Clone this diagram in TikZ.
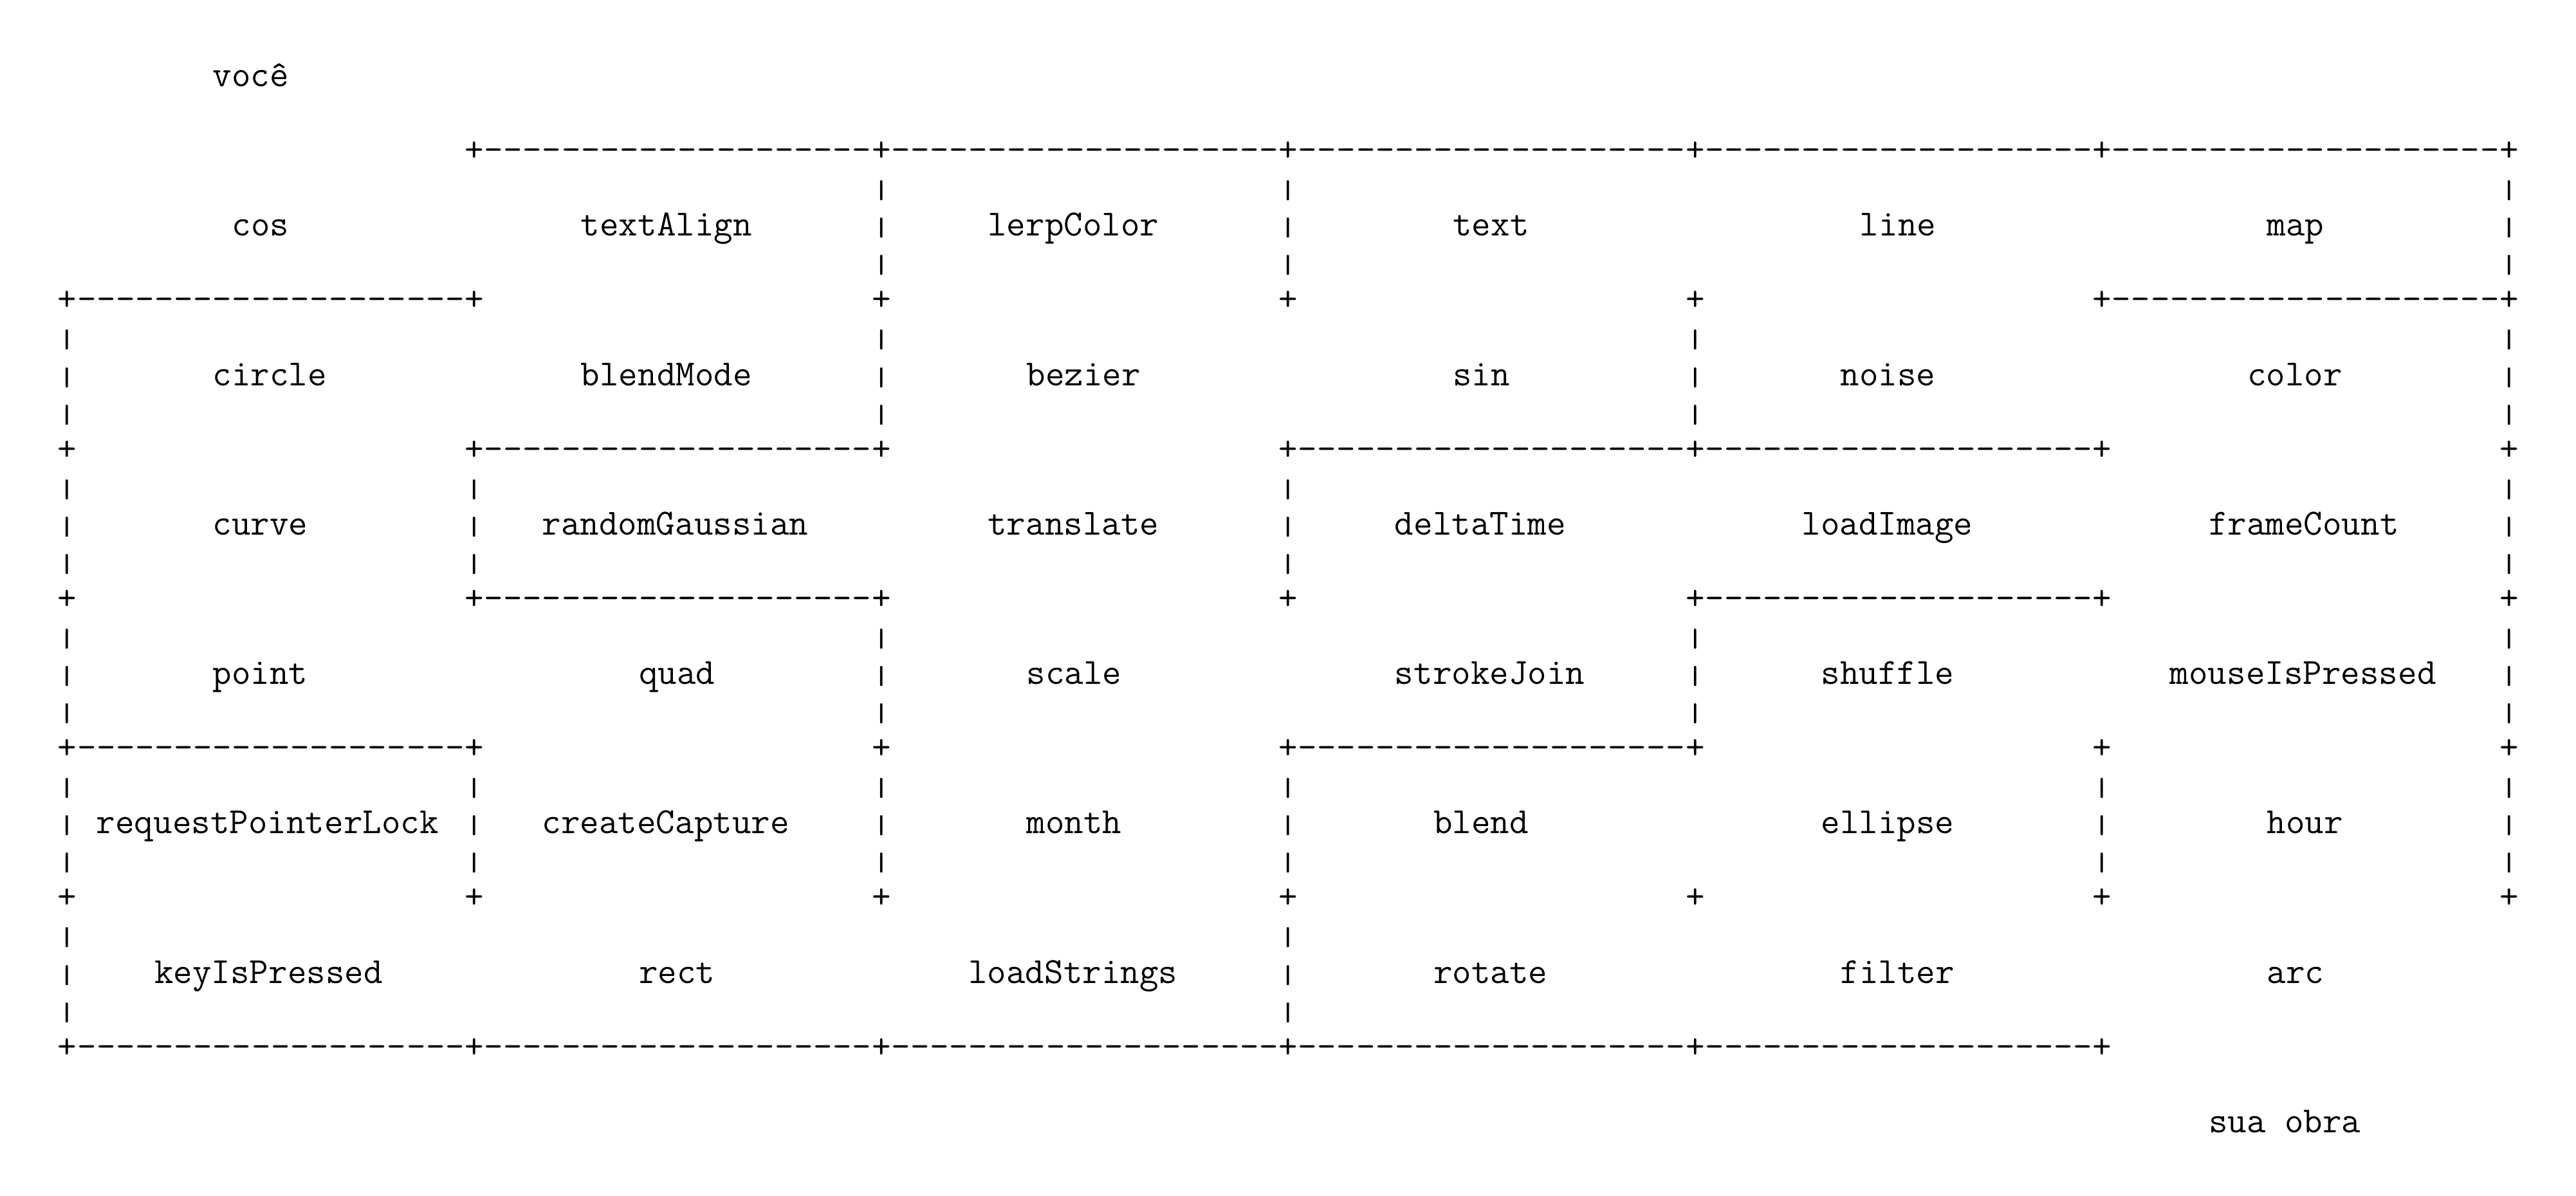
\documentclass[tikz,border=0pt]{standalone}
\usepackage{graphicx}
\usepackage{tikz}

\newcommand{\knot}{\makebox[5.4pt]{+}}
\newcommand{\wdash}{\makebox[5.4pt]{-}}
\newcommand{\vbar}{\makebox[5.4pt]{\scalebox{1}[0.7]{|}}}

\begin{document}
\begin{tikzpicture}[x=6pt,y=11.566pt,
	every node/.style={inner sep=0pt,outer sep=0pt,font=\ttfamily\fontsize{11.43}{11.57}\selectfont},
	word/.style={anchor=mid west},
	glyph/.style={anchor=mid}]
	\useasboundingbox (-2.975,2.13) rectangle (129.955,-29.87);

	\draw (8,0) node[word] (you) {você};
	\draw (111,-28) node[word] (work) {sua obra};

	\foreach \c in {21,42,...,126}
		\draw (\c+0.5,-2) node[glyph] (knot-\c-2) {\knot};
	\foreach \r in {6,10,14,18,22}
		\foreach \c in {0,21,...,126}
			\draw (\c+0.5,-\r) node[glyph] (knot-\c-\r) {\knot};
	\foreach \c in {0,21,...,105}
		\draw (\c+0.5,-26) node[glyph] (knot-\c-26) {\knot};
	\foreach \c/\r in {21/2,42/2,63/2,84/2,105/2, 0/6,105/6, 21/10,63/10,84/10, 21/14,84/14, 0/18,63/18, 0/26,21/26,42/26,63/26,84/26}
		\foreach \d in {1,...,20}
			\draw (\c+\d+0.5,-\r) node[glyph] (dash-\c-\r-\d) {\wdash};
	\foreach \c/\r in {42/3,63/3,126/3, 0/7,42/7,84/7,126/7, 0/11,21/11,63/11,126/11, 0/15,42/15,84/15,126/15, 0/19,21/19,42/19,63/19,105/19,126/19, 0/23,63/23}
		\foreach \k in {0,1,2}
			\draw (\c+0.5,-\r-\k) node[glyph] (bar-\c-\r-\k) {\vbar};

	\draw (9,-4) node[word] (cos) {cos};
	\draw (27,-4) node[word] (textAlign) {textAlign};
	\draw (48,-4) node[word] (lerpColor) {lerpColor};
	\draw (72,-4) node[word] (text) {text};
	\draw (93,-4) node[word] (line) {line};
	\draw (114,-4) node[word] (map) {map};

	\draw (8,-8) node[word] (circle) {circle};
	\draw (27,-8) node[word] (blendMode) {blendMode};
	\draw (50,-8) node[word] (bezier) {bezier};
	\draw (72,-8) node[word] (sin) {sin};
	\draw (92,-8) node[word] (noise) {noise};
	\draw (113,-8) node[word] (color) {color};

	\draw (8,-12) node[word] (curve) {curve};
	\draw (25,-12) node[word] (randomGaussian) {randomGaussian};
	\draw (48,-12) node[word] (translate) {translate};
	\draw (69,-12) node[word] (deltaTime) {deltaTime};
	\draw (90,-12) node[word] (loadImage) {loadImage};
	\draw (111,-12) node[word] (frameCount) {frameCount};

	\draw (8,-16) node[word] (point) {point};
	\draw (30,-16) node[word] (quad) {quad};
	\draw (50,-16) node[word] (scale) {scale};
	\draw (69,-16) node[word] (strokeJoin) {strokeJoin};
	\draw (91,-16) node[word] (shuffle) {shuffle};
	\draw (109,-16) node[word] (mouseIsPressed) {mouseIsPressed};

	\draw (2,-20) node[word] (requestPointerLock) {requestPointerLock};
	\draw (25,-20) node[word] (createCapture) {createCapture};
	\draw (50,-20) node[word] (month) {month};
	\draw (71,-20) node[word] (blend) {blend};
	\draw (91,-20) node[word] (ellipse) {ellipse};
	\draw (114,-20) node[word] (hour) {hour};

	\draw (5,-24) node[word] (keyIsPressed) {keyIsPressed};
	\draw (30,-24) node[word] (rect) {rect};
	\draw (47,-24) node[word] (loadStrings) {loadStrings};
	\draw (71,-24) node[word] (rotate) {rotate};
	\draw (92,-24) node[word] (filter) {filter};
	\draw (114,-24) node[word] (arc) {arc};
\end{tikzpicture}
\end{document}
